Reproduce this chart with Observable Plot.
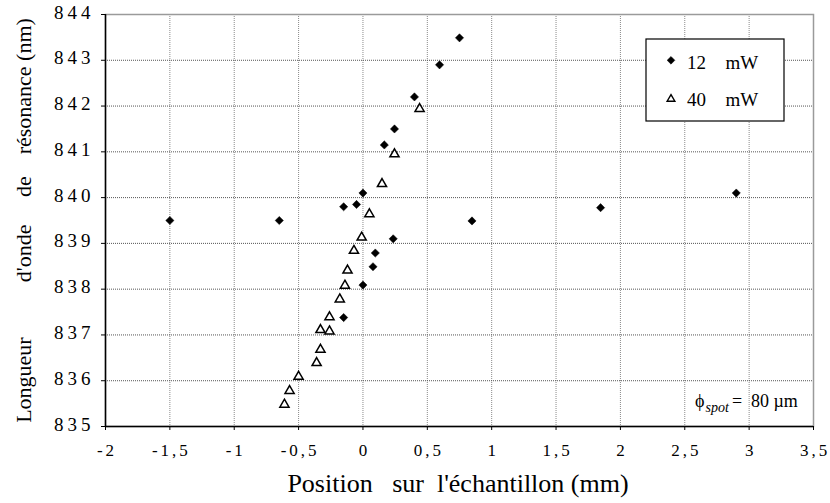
<!DOCTYPE html>
<html>
<head>
<meta charset="utf-8">
<script src="https://cdn.jsdelivr.net/npm/d3@7"></script>
<script src="https://cdn.jsdelivr.net/npm/@observablehq/plot@0.6"></script>
<style>
  html, body { margin: 0; padding: 0; background: white; font-family: 'Liberation Serif', serif; }
  #wrap { position: relative; width: 830px; height: 503px; }
  #overlay { position: absolute; left: 0; top: 0; pointer-events: none; }
</style>
</head>
<body>
<div id="wrap"></div>
<script>
// 12 mW series (filled diamonds)
const x12 = [0.75, 0.595, 0.40, 0.245, 0.166, 0.0, -0.05, -0.15, -1.50, -0.65, 0.235, 0.096, 0.078, 0.0, -0.15, 0.847, 1.846, 2.90];
const y12 = [843.49, 842.9, 842.2, 841.5, 841.15, 840.1, 839.85, 839.8, 839.5, 839.5, 839.1, 838.79, 838.49, 838.09, 837.38, 839.49, 839.78, 840.1];
// 40 mW series (open triangles)
const x40 = [0.44, 0.245, 0.148, 0.05, -0.01, -0.07, -0.12, -0.14, -0.18, -0.26, -0.33, -0.26, -0.33, -0.36, -0.50, -0.57, -0.61];
const y40 = [841.94, 840.95, 840.3, 839.64, 839.13, 838.84, 838.41, 838.08, 837.78, 837.39, 837.11, 837.08, 836.68, 836.39, 836.09, 835.78, 835.48];
// ticks
const xTicks = [-2, -1.5, -1, -0.5, 0, 0.5, 1, 1.5, 2, 2.5, 3, 3.5];
const yTicks = [835, 836, 837, 838, 839, 840, 841, 842, 843, 844];
const seriesNames = ["12   mW", "40   mW"];
const NB = n => "\u00a0".repeat(n);
const xTitle = "Position" + NB(3) + "sur" + NB(2) + "l'échantillon (mm)";
const yTitle = "Longueur" + NB(10) + "d'onde" + NB(5) + "de" + NB(4) + "résonance (nm)";

const FONT = "Liberation Serif";
const d12 = x12.map((x, i) => ({x, y: y12[i]}));
const d40 = x40.map((x, i) => ({x, y: y40[i]}));
const fmt = d => String(d).replace(".", ",");
const blank = () => "";

const chart = Plot.plot({
  width: 830,
  height: 503,
  marginLeft: 105,
  marginRight: 17,
  marginTop: 14,
  marginBottom: 77,
  style: {fontFamily: FONT, fontSize: "17px", background: "white", color: "black"},
  x: {domain: [-2, 3.5]},
  y: {domain: [835, 844]},
  marks: [
    Plot.gridX(xTicks, {stroke: "#8a8a8a", strokeOpacity: 1, strokeDasharray: "1,1"}),
    Plot.gridY(yTicks, {stroke: "#555", strokeOpacity: 1, strokeDasharray: "1,1"}),
    Plot.frame({stroke: "#9a9a9a", strokeWidth: 1.5}),
    Plot.ruleX([-2], {stroke: "black", strokeWidth: 1.5}),
    Plot.ruleY([835], {stroke: "black", strokeWidth: 1.5}),
    // tick marks
    Plot.axisX({ticks: xTicks, tickFormat: blank, tickSize: 4, label: null}),
    Plot.axisY({ticks: yTicks, tickFormat: blank, tickSize: 4, label: null}),
    // tick labels
    Plot.axisX({ticks: xTicks, tickFormat: fmt, tickSize: 0, tickPadding: 17.5, fontSize: 17, dx: 1.5, label: null}),
    Plot.axisY({ticks: yTicks, tickFormat: fmt, tickSize: 0, tickPadding: 11, fontSize: 19, dy: -2, label: null}),
    Plot.dot(d40, {x: "x", y: "y", symbol: "triangle", r: 3.4, stroke: "black", strokeWidth: 1.5, fill: "white"}),
    Plot.dot(d12, {x: "x", y: "y", symbol: "diamond2", r: 3.7, fill: "black", stroke: "black", strokeWidth: 0.5}),
    Plot.text([xTitle], {frameAnchor: "bottom", textAnchor: "middle", lineAnchor: "middle", dx: -1.5, dy: 57.5, fontSize: 26}),
    Plot.text([yTitle], {frameAnchor: "left", textAnchor: "middle", lineAnchor: "middle", dx: -82, rotate: -90, fontSize: 22})
  ]
});

const wrap = document.getElementById("wrap");
wrap.appendChild(chart);

// Legend and annotation overlay
const ov = d3.select(wrap).append("svg")
  .attr("id", "overlay").attr("width", 830).attr("height", 503);

const lg = ov.append("g");
lg.append("rect").attr("x", 646).attr("y", 39).attr("width", 138).attr("height", 82)
  .attr("fill", "white").attr("stroke", "black").attr("stroke-width", 1.2);
const symbols = [d3.symbol(d3.symbolDiamond2, 38), d3.symbol(d3.symbolTriangle, 26)];
const rowY = [60.3, 99];
const baseY = [68.5, 105.5];
seriesNames.forEach((name, i) => {
  lg.append("path").attr("d", symbols[i]())
    .attr("transform", `translate(671,${rowY[i]})`)
    .attr("fill", i === 0 ? "black" : "white")
    .attr("stroke", "black").attr("stroke-width", i === 0 ? 0.5 : 1.4);
  const [num, unit] = name.split(/\s+/);
  lg.append("text").attr("x", 687).attr("y", baseY[i]).attr("font-size", 19).text(num);
  lg.append("text").attr("x", 725.5).attr("y", baseY[i]).attr("font-size", 19).text(unit);
});

const ann = ov.append("text").attr("y", 406.5).attr("font-size", 18);
ann.append("tspan").attr("x", 695).text("ϕ");
ann.append("tspan").attr("x", 705.5).attr("font-style", "italic").attr("font-size", 14).attr("dy", 5).text("spot");
ann.append("tspan").attr("x", 732).attr("dy", -5).text("=");
ann.append("tspan").attr("x", 751).text("80 µm");

// serif family on every text, as attribute and inline style
d3.select(wrap).selectAll("svg, g, text, tspan")
  .attr("font-family", FONT)
  .style("font-family", FONT);
d3.select(chart).selectAll('g[aria-label="y-axis tick label"] text').style("letter-spacing", "4px");
d3.select(chart).selectAll('g[aria-label="x-axis tick label"] text').style("letter-spacing", "3px");
</script>
</body>
</html>
